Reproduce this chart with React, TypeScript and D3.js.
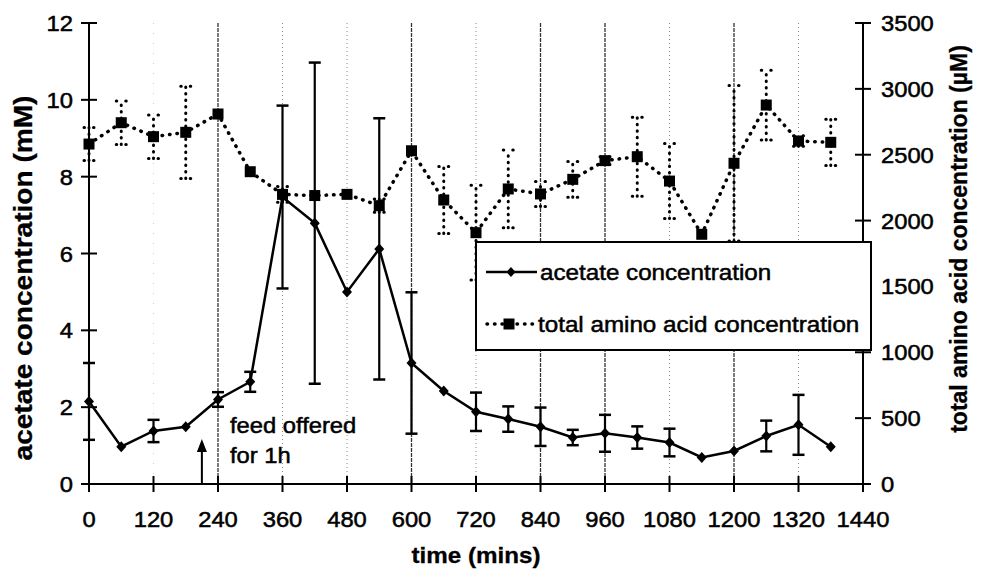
import React from "react";
import * as d3 from "d3";

const times = [0, 60, 120, 180, 240, 300, 360, 420, 480, 540, 600, 660, 720, 780, 840, 900, 960, 1020, 1080, 1140, 1200, 1260, 1320, 1380];
const acetate = [2.15, 0.97, 1.38, 1.49, 2.2, 2.66, 7.47, 6.79, 5.0, 6.12, 3.15, 2.42, 1.88, 1.69, 1.49, 1.21, 1.32, 1.21, 1.08, 0.69, 0.86, 1.25, 1.54, 0.97];
const acetateErr = [1.0, 0, 0.29, 0, 0.19, 0.26, 2.38, 4.18, 0, 3.4, 1.84, 0, 0.5, 0.33, 0.5, 0.2, 0.48, 0.29, 0.36, 0, 0, 0.4, 0.78, 0];
const amino = [2581, 2743, 2637, 2670, 2809, 2371, 2199, 2190, 2199, 2113, 2530, 2156, 1908, 2240, 2202, 2313, 2455, 2485, 2300, 1896, 2435, 2877, 2604, 2594];
const aminoErr = [125, 165, 165, 350, 0, 0, 60, 0, 0, 50, 0, 255, 360, 295, 95, 135, 30, 300, 285, 0, 590, 265, 40, 175];

const xTicks = [0, 120, 240, 360, 480, 600, 720, 840, 960, 1080, 1200, 1320, 1440];
const leftTicks = [0, 2, 4, 6, 8, 10, 12];
const rightTicks = [0, 500, 1000, 1500, 2000, 2500, 3000, 3500];
const darkGrid = [240, 600, 840, 960, 1200];
const lightGrid = [360, 480, 720, 1080, 1320];
const faintGrid = [120];
const feedTime = 210;

const FONT = "'Liberation Sans', Arial, Helvetica, sans-serif";

function T(props: any) {
  const { x, y, size = 22, weight = "normal", anchor = "start", sx = 1.08, rotate = 0, children, sw = 0.5 } = props;
  return (
    <text
      transform={`translate(${x},${y}) rotate(${rotate}) scale(${sx},1)`}
      fontSize={size}
      fontWeight={weight}
      textAnchor={anchor}
      fontFamily={FONT}
      fill="#000"
      stroke="#000"
      strokeWidth={sw}
    >
      {children}
    </text>
  );
}

export default function App() {
  const W = 982, H = 571;
  const x = d3.scaleLinear().domain([0, 1440]).range([89, 863]);
  const yL = d3.scaleLinear().domain([0, 12]).range([484, 23]);
  const yR = d3.scaleLinear().domain([0, 3500]).range([484, 23]);

  const acetLine = d3.line<number>().x((_, i) => x(times[i])).y((d) => yL(d))(acetate) || "";
  const aminoLine = d3.line<number>().x((_, i) => x(times[i])).y((d) => yR(d))(amino) || "";

  const top = yL(12), bottom = yL(0);

  return (
    <svg width={W} height={H} style={{ position: "absolute", left: 0, top: 0, background: "#fff" }}>
      <rect x={0} y={0} width={W} height={H} fill="#fff" />
      {/* gridlines */}
      {faintGrid.map((t) => (
        <line key={"f" + t} x1={x(t)} x2={x(t)} y1={top} y2={bottom} stroke="#ccc" strokeWidth={1} strokeDasharray="1 9" />
      ))}
      {lightGrid.map((t) => (
        <line key={"l" + t} x1={x(t)} x2={x(t)} y1={top} y2={bottom} stroke="#888" strokeWidth={1} strokeDasharray="1 3" />
      ))}
      {darkGrid.map((t) => (
        <line key={"d" + t} x1={x(t)} x2={x(t)} y1={top} y2={bottom} stroke="#333" strokeWidth={1.3} strokeDasharray="4 1" />
      ))}

      {/* axes */}
      <line x1={x(0)} x2={x(0)} y1={top} y2={bottom} stroke="#000" strokeWidth={2} />
      <line x1={x(1440)} x2={x(1440)} y1={top} y2={bottom} stroke="#000" strokeWidth={2} />
      <line x1={x(0)} x2={x(1440)} y1={bottom} y2={bottom} stroke="#000" strokeWidth={2} />
      {leftTicks.map((v) => (
        <g key={"lt" + v}>
          <line x1={x(0) - 8} x2={x(0) + 8} y1={yL(v)} y2={yL(v)} stroke="#000" strokeWidth={2} />
          <T x={x(0) - 16} y={yL(v) + 8} anchor="end">{v}</T>
        </g>
      ))}
      {rightTicks.map((v) => (
        <g key={"rt" + v}>
          <line x1={x(1440) - 8} x2={x(1440) + 8} y1={yR(v)} y2={yR(v)} stroke="#000" strokeWidth={2} />
          <T x={x(1440) + 18} y={yR(v) + 8} anchor="start">{v}</T>
        </g>
      ))}
      {xTicks.map((t) => (
        <g key={"xt" + t}>
          <line x1={x(t)} x2={x(t)} y1={bottom - 8} y2={bottom + 8} stroke="#000" strokeWidth={2} />
          <T x={x(t)} y={527} anchor="middle">{t}</T>
        </g>
      ))}

      {/* axis titles */}
      <T x={476} y={563} anchor="middle" weight="bold" sx={1.1} sw={0.3}>time (mins)</T>
      <T x={32} y={278} anchor="middle" weight="bold" size={26} rotate={-90} sx={1.08} sw={0.3}>acetate concentration (mM)</T>
      <T x={967} y={239} anchor="middle" weight="bold" size={23} rotate={-90} sx={1.0} sw={0.3}>total amino acid concentration (µM)</T>

      {/* amino acid series */}
      {times.map((t, i) =>
        aminoErr[i] > 0 ? (
          <g key={"ae" + t} stroke="#000" strokeWidth={3} strokeLinecap="round" fill="none">
            <line x1={x(t)} x2={x(t)} y1={yR(amino[i] - aminoErr[i])} y2={yR(amino[i] + aminoErr[i])} strokeDasharray="0.5 6" />
            <line x1={x(t) - 5} x2={x(t) + 5} y1={yR(amino[i] + aminoErr[i])} y2={yR(amino[i] + aminoErr[i])} strokeDasharray="0.5 9" />
            <line x1={x(t) - 5} x2={x(t) + 5} y1={yR(amino[i] - aminoErr[i])} y2={yR(amino[i] - aminoErr[i])} strokeDasharray="0.5 9" />
          </g>
        ) : null
      )}
      <path d={aminoLine} fill="none" stroke="#000" strokeWidth={3.5} strokeLinecap="round" strokeDasharray="0.5 7" />
      {times.map((t, i) => (
        <rect key={"as" + t} x={x(t) - 5.5} y={yR(amino[i]) - 5.5} width={11} height={11} fill="#000" />
      ))}

      {/* acetate series */}
      {times.map((t, i) =>
        acetateErr[i] > 0 ? (
          <g key={"ce" + t} stroke="#000" strokeWidth={2.2} fill="none">
            <line x1={x(t)} x2={x(t)} y1={yL(acetate[i] - acetateErr[i])} y2={yL(acetate[i] + acetateErr[i])} />
            <line x1={x(t) - 6} x2={x(t) + 6} y1={yL(acetate[i] + acetateErr[i])} y2={yL(acetate[i] + acetateErr[i])} strokeWidth={2.5} />
            <line x1={x(t) - 6} x2={x(t) + 6} y1={yL(acetate[i] - acetateErr[i])} y2={yL(acetate[i] - acetateErr[i])} strokeWidth={2.5} />
          </g>
        ) : null
      )}
      <path d={acetLine} fill="none" stroke="#000" strokeWidth={2.5} />
      {times.map((t, i) => (
        <path key={"cd" + t} d={`M${x(t)},${yL(acetate[i]) - 5.5}L${x(t) + 5},${yL(acetate[i])}L${x(t)},${yL(acetate[i]) + 5.5}L${x(t) - 5},${yL(acetate[i])}Z`} fill="#000" />
      ))}

      {/* legend */}
      <rect x={476} y={242} width={395} height={108} fill="#fff" stroke="#000" strokeWidth={2} />
      <line x1={486} x2={537} y1={272} y2={272} stroke="#000" strokeWidth={2.5} />
      <path d={`M511,267L515.5,272L511,277L506.5,272Z`} fill="#000" />
      <T x={540} y={280} sx={1.1}>acetate concentration</T>
      <line x1={487} x2={536} y1={324} y2={324} stroke="#000" strokeWidth={3.5} strokeLinecap="round" strokeDasharray="0.5 7" />
      <rect x={503.5} y={318.5} width={11} height={11} fill="#000" />
      <T x={538} y={332} sx={1.1}>total amino acid concentration</T>

      {/* annotation */}
      <line x1={x(feedTime)} x2={x(feedTime)} y1={448} y2={bottom} stroke="#000" strokeWidth={2} />
      <path d={`M${x(feedTime)},439L${x(feedTime) + 5},452L${x(feedTime) - 5},452Z`} fill="#000" />
      <T x={230} y={433}>feed offered</T>
      <T x={230} y={463}>for 1h</T>
    </svg>
  );
}
